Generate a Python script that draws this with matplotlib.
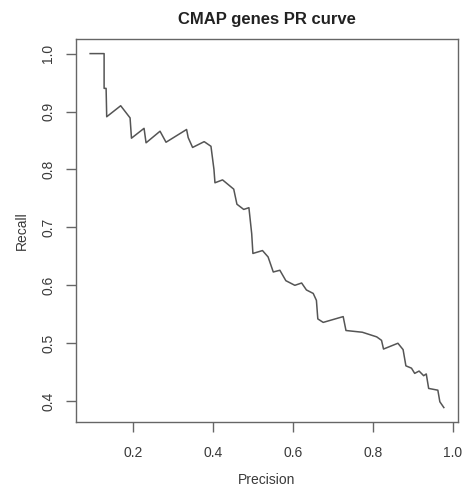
import matplotlib
matplotlib.use("Agg")
import matplotlib.pyplot as plt

plt.rcParams['font.family'] = ['Liberation Sans', 'DejaVu Sans']

# PR curve values
precision = [0.0925, 0.1275, 0.1275, 0.1325, 0.134, 0.169, 0.1925, 0.196, 0.2275,
             0.2325, 0.2675, 0.2825, 0.334, 0.338, 0.349, 0.378, 0.395, 0.4025,
             0.405, 0.424, 0.452, 0.46, 0.477, 0.49, 0.497, 0.50, 0.524, 0.538,
             0.551, 0.5675, 0.5825, 0.605, 0.622, 0.634, 0.651, 0.659, 0.6625,
             0.676, 0.726, 0.733, 0.774, 0.81, 0.822, 0.827, 0.863, 0.876, 0.883,
             0.897, 0.905, 0.916, 0.9275, 0.934, 0.94, 0.963, 0.968, 0.978]
recall = [1.0, 1.0, 0.94, 0.94, 0.891, 0.91, 0.889, 0.854, 0.871,
          0.846, 0.866, 0.847, 0.869, 0.855, 0.838, 0.848, 0.84, 0.80,
          0.777, 0.782, 0.766, 0.74, 0.731, 0.734, 0.689, 0.655, 0.66, 0.649,
          0.623, 0.626, 0.608, 0.60, 0.604, 0.592, 0.586, 0.574, 0.542,
          0.536, 0.546, 0.522, 0.519, 0.511, 0.505, 0.49, 0.50, 0.489, 0.461,
          0.457, 0.448, 0.452, 0.444, 0.447, 0.422, 0.419, 0.399, 0.389]

xticks = [0.2, 0.4, 0.6, 0.8, 1.0]
yticks = [0.4, 0.5, 0.6, 0.7, 0.8, 0.9, 1.0]

txt = '#3a3a3a'

fig = plt.figure(figsize=(4.67, 4.93), dpi=100)
ax = fig.add_axes([0.1627, 0.1446, 0.818, 0.7754])

ax.plot(precision, recall, color='#555555', linewidth=1.1)

# R-style 4% padding on the ranges
xr = max(precision) - min(precision)
yr = max(recall) - min(recall)
ax.set_xlim(min(precision) - 0.04 * xr, max(precision) + 0.04 * xr)
ax.set_ylim(min(recall) - 0.04 * yr, max(recall) + 0.04 * yr)

ax.set_xticks(xticks)
ax.set_xticklabels([f"{t:.1f}" for t in xticks], color=txt, fontsize=10)
ax.set_yticks(yticks)
ax.set_yticklabels([f"{t:.1f}" for t in yticks], color=txt, fontsize=10,
                   rotation=90, va='center')
ax.tick_params(axis='x', length=7, width=1, color='#666666', pad=10.5)
ax.tick_params(axis='y', length=7, width=1, color='#666666', pad=8)

for s in ax.spines.values():
    s.set_color('#666666')
    s.set_linewidth(1.0)

ax.set_xlabel('Precision', color=txt, fontsize=10, labelpad=9)
ax.set_ylabel('Recall', color=txt, fontsize=10, labelpad=9)
ax.set_title('CMAP genes PR curve', color='#222222', fontsize=12,
             fontweight='bold', pad=11)

fig.savefig('out.png', dpi=100)
